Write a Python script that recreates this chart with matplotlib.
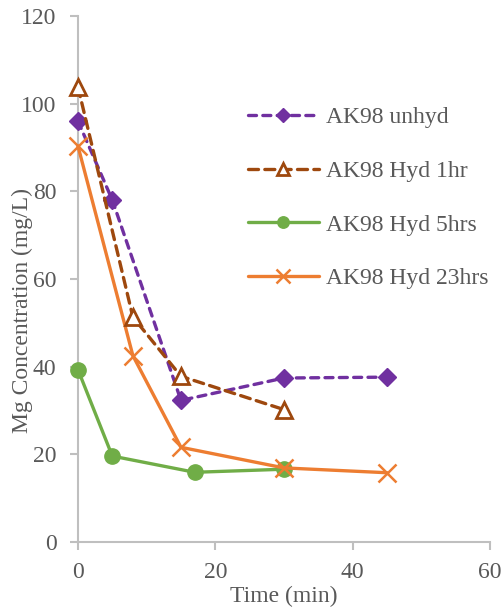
import matplotlib
matplotlib.use("Agg")
import matplotlib.pyplot as plt

plt.rcParams['font.family'] = ['Liberation Serif', 'DejaVu Serif']

# Mg concentration over time for each sample
t_unhyd = [0, 5, 15, 30, 45]
mg_unhyd = [96, 78, 32.3, 37.4, 37.6]

t_hyd1 = [0, 8, 15, 30]
mg_hyd1 = [103.8, 51.3, 37.8, 30.2]

t_hyd5 = [0, 5, 17, 30]
mg_hyd5 = [39.3, 19.6, 15.9, 16.6]

t_hyd23 = [0, 8, 15, 30, 45]
mg_hyd23 = [90.3, 42.5, 21.6, 16.9, 15.8]

labels = ["AK98 unhyd", "AK98 Hyd 1hr", "AK98 Hyd 5hrs", "AK98 Hyd 23hrs"]

TEXT = '#595959'
AXIS = '#bfbfbf'
FS = 17

fig = plt.figure(figsize=(5.03, 6.09), dpi=100)
ax = fig.add_axes([0.155, 0.110, 0.819, 0.864])

lw = 2.4
ax.plot(t_unhyd, mg_unhyd, color='#7030a0', lw=lw, dashes=(2.4, 1.9),
        dash_capstyle='round', marker='D', ms=9, mfc='#7030a0', mec='#7030a0',
        label=labels[0], zorder=3)
ax.plot(t_hyd1, mg_hyd1, color='#9e480e', lw=lw, dashes=(3.0, 1.9),
        dash_capstyle='round', marker='^', ms=11, mfc='white', mec='#9e480e',
        mew=2, label=labels[1], zorder=4)
ax.plot(t_hyd5, mg_hyd5, color='#70ad47', lw=lw, solid_capstyle='round',
        marker='o', ms=11, mfc='#70ad47', mec='#70ad47', label=labels[2], zorder=3)
ax.plot(t_hyd23, mg_hyd23, color='#ed7d31', lw=lw, solid_capstyle='round',
        marker='x', ms=13, mew=1.8, mec='#ed7d31', label=labels[3], zorder=3)

ax.set_xlim(0, 60)
ax.set_ylim(0, 120)
ax.set_xticks([0, 20, 40, 60])
ax.set_yticks(range(0, 121, 20))

for s in ['top', 'right']:
    ax.spines[s].set_visible(False)
for s in ['left', 'bottom']:
    ax.spines[s].set_color(AXIS)
    ax.spines[s].set_linewidth(1.5)
ax.tick_params(axis='both', colors=AXIS, labelcolor=TEXT,
               labelsize=FS, length=5.5, width=1.5, direction='out')
ax.tick_params(axis='y', pad=10)
ax.tick_params(axis='x', pad=9)
for line in ax.lines:
    line.set_clip_on(False)

ax.set_xlabel("Time (min)", fontsize=FS, color=TEXT, labelpad=2)
ax.set_ylabel("Mg Concentration (mg/L)", fontsize=FS, color=TEXT)
ax.yaxis.set_label_coords(-0.108, 0.44)

leg = ax.legend(loc='upper left', bbox_to_anchor=(0.39, 0.845), frameon=False,
                fontsize=FS, labelspacing=1.36, handlelength=3.0,
                handletextpad=0.3, borderaxespad=0, markerscale=0.75)
for txt in leg.get_texts():
    txt.set_color(TEXT)

fig.savefig("out.png", dpi=100)
